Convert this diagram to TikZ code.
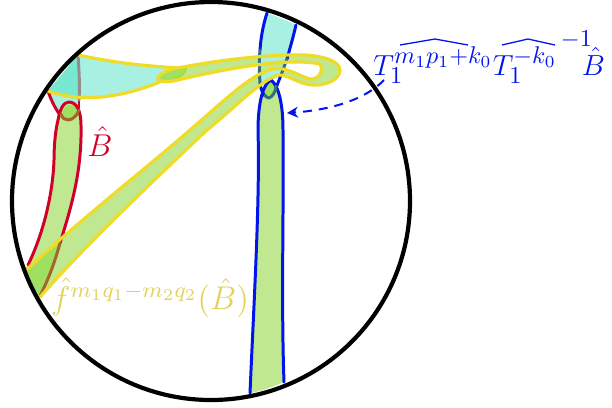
\documentclass[tikz,border=0pt]{standalone}
\usetikzlibrary{arrows.meta}
\DeclareMathSizes{10.95}{12}{10}{7}
\definecolor{cy}{RGB}{168,241,226}
\definecolor{cyd}{RGB}{120,232,208}
\definecolor{gr}{RGB}{192,232,144}
\definecolor{grd}{RGB}{160,224,96}
\definecolor{yl}{RGB}{238,220,40}
\definecolor{rd}{RGB}{208,0,40}
\definecolor{bl}{RGB}{0,20,235}
\definecolor{ytx}{RGB}{225,210,90}
\definecolor{brn}{RGB}{165,100,40}
\definecolor{gry}{RGB}{150,140,140}
\definecolor{dbl}{RGB}{50,110,125}
\definecolor{ygr}{RGB}{180,215,40}
\tikzset{edge/.style={line width=3pt,line cap=round,line join=round},
 yedge/.style={line width=3.2pt,line cap=round,line join=round,yl}}
\begin{document}
\begin{tikzpicture}[x=1bp,y=-1bp]
\useasboundingbox (0,0) rectangle (612,407);
\coordinate (c) at (211,201);
% top-left cyan
\fill[cy] (78,55) .. controls (120,64) and (150,66) .. (178,68) -- (160,82) .. controls (125,96) and (85,104) .. (48,91) -- cycle;
\fill[cyd] (78,55) .. controls (79,70) and (80,85) .. (79,100) .. controls (70,99) and (58,96) .. (48,91) -- cycle;
\fill[cy] (48,91) .. controls (62,97) and (70,99) .. (79,100) -- (79,112) -- (60,115) -- cycle;
% red band
\fill[gr] (69,102) .. controls (77,102) and (81,112) .. (81,125) .. controls (82,170) and (72,205) .. (60,243) -- (28,268) .. controls (45,230) and (53,190) .. (54,160) .. controls (54,148) and (55,132) .. (58,120) .. controls (60,110) and (63,102) .. (69,102) -- cycle;
% yellow band
\fill[gr] (26,270) .. controls (80,220) and (150,165) .. (190,130) .. controls (225,100) and (250,75) .. (272,69) .. controls (285,66) and (297,75) .. (310,79) .. controls (319,80) and (324,70) .. (320,64) .. controls (290,58) and (240,66) .. (186,78) .. controls (178,80) and (165,84) .. (158,80) .. controls (156,74) and (172,68) .. (183,67) .. controls (220,60) and (270,54) .. (305,55) .. controls (325,56) and (340,62) .. (340,70) .. controls (340,80) and (325,86) .. (312,85) .. controls (298,84) and (288,74) .. (277,75) .. controls (255,85) and (230,112) .. (207,130) .. controls (170,165) and (90,240) .. (40,297) .. controls (34,288) and (29,279) .. (26,270) -- cycle;
\fill[grd] (26,268) -- (60,243) .. controls (55,262) and (48,280) .. (40,297) .. controls (34,288) and (29,279) .. (26,268) -- cycle;
% blue upper
\fill[cy] (267,13) .. controls (275,16) and (288,21) .. (296,25) .. controls (292,40) and (288,55) .. (284,70) -- (277,78) -- (260,84) .. controls (258,78) and (259,70) .. (260,50) .. controls (261,35) and (264,22) .. (267,13) -- cycle;
% blue lower
\fill[gr] (271,80) .. controls (279,86) and (283,105) .. (283,130) .. controls (284,200) and (281,300) .. (284,382) .. controls (272,387) and (262,391) .. (250,393) .. controls (254,300) and (260,200) .. (258,130) .. controls (258,110) and (261,85) .. (271,80) -- cycle;
% overlaps
\fill[gr] (260,63) -- (287,59) -- (283,71) .. controls (272,68) and (265,72) .. (260,78) -- cycle;
\fill[grd] (159,78) .. controls (165,70) and (180,66) .. (186,69) .. controls (186,76) and (170,83) .. (159,80) -- cycle;
\draw[line width=1.6pt,ygr] (165,72) .. controls (172,68) and (182,66) .. (186,69) .. controls (186,74) and (178,78) .. (172,80);
\fill[grd] (271,81) .. controls (276,85) and (277,92) .. (270,98) .. controls (264,97) and (262,85) .. (271,81) -- cycle;
\fill[grd] (62,114) .. controls (63,105) and (74,100) .. (79,110) .. controls (76,116) and (71,120) .. (68,120) .. controls (64,120) and (62,117) .. (62,114) -- cycle;
% blue lines
\draw[edge,bl] (267,13) .. controls (264,22) and (261,35) .. (260,50);
\draw[edge,bl] (260,82) .. controls (260,87) and (262,92) .. (265,96);
\draw[edge,bl] (296,25) .. controls (293,38) and (290,48) .. (287,59);
\draw[edge,bl] (281,75) -- (276,88);
\draw[edge,bl] (284,382) .. controls (281,300) and (284,200) .. (283,130) .. controls (283,105) and (279,86) .. (271,80) .. controls (261,85) and (258,110) .. (258,130) .. controls (260,200) and (254,300) .. (250,393);
% dark parts
\draw[edge,dbl] (260,50) .. controls (259,60) and (259,72) .. (260,82);
\draw[edge,dbl] (287,59) -- (281,75);
\draw[edge,dbl] (276,86) .. controls (276,92) and (272,97) .. (269,98) .. controls (267,98) and (265,96) .. (265,95);
% red lines
\draw[edge,rd] (48,91) .. controls (51,100) and (55,108) .. (60,115);
\draw[edge,rd] (79,100) -- (79,110);
\draw[edge,rd] (60,243) .. controls (72,205) and (82,170) .. (81,125) .. controls (81,112) and (77,102) .. (69,102) .. controls (63,102) and (60,110) .. (58,120) .. controls (55,132) and (54,148) .. (54,160) .. controls (53,190) and (45,230) .. (28,265);
% grey and brown
\draw[edge,gry] (78,55) .. controls (79,70) and (80,85) .. (79,100);
\draw[edge,brn] (61,114) .. controls (62,118) and (65,120) .. (68,120) .. controls (72,120) and (77,116) .. (79,110);
\draw[edge,brn] (60,243) .. controls (55,262) and (48,280) .. (40,296);
% yellow lines
\draw[yedge] (78,55) .. controls (120,64) and (150,66) .. (178,68);
\draw[yedge] (48,91) .. controls (85,104) and (125,96) .. (160,82);
\draw[yedge] (26,270) .. controls (80,220) and (150,165) .. (190,130) .. controls (225,100) and (250,75) .. (272,69) .. controls (285,66) and (297,75) .. (310,79) .. controls (319,80) and (324,70) .. (320,64) .. controls (290,58) and (240,66) .. (186,78) .. controls (178,80) and (165,84) .. (158,80) .. controls (156,74) and (172,68) .. (183,67) .. controls (220,60) and (270,54) .. (305,55) .. controls (325,56) and (340,62) .. (340,70) .. controls (340,80) and (325,86) .. (312,85) .. controls (298,84) and (288,74) .. (277,75) .. controls (255,85) and (230,112) .. (207,130) .. controls (170,165) and (90,240) .. (40,297);
% circle
\node[draw=black,line width=4.2pt,circle,minimum size=398bp,inner sep=0pt] (disk) at (c) {};
% labels
\node[text=rd,font=\Large,scale=2.2,anchor=center] (bh) at (100,142) {$\hat{B}$};
\node[text=ytx,font=\large,scale=2.75,anchor=center] (fh) at (150,298) {$\hat{f}^{m_1q_1-m_2q_2}(\hat{B})$};
\node[text=bl,font=\fontsize{10.95}{13}\selectfont,scale=2.43,anchor=base west,inner sep=0pt] (th) at (373,75) {$T_1^{\smash{\raisebox{0.4pt}{$\scriptstyle m_1p_1+k_0$}}}T_1^{\smash{\raisebox{0.4pt}{$\scriptstyle -k_0$}}}{}^{\raisebox{7.5pt}{$\scriptstyle \,-1$}}\mkern-7mu\hat{B}$};
\draw[bl,line width=1.3pt] (400,45) -- (435,39) -- (468,45);
\draw[bl,line width=1.3pt] (502,45) -- (528,39) -- (555,45);
\coordinate (tip) at (287,113);
\coordinate (tail) at (384,80);
\draw[bl,line width=2pt,dash pattern=on 9pt off 7pt,-{Stealth[length=11pt,width=11pt]}] (tail) .. controls (365,100) and (330,110) .. (tip);
\end{tikzpicture}
\end{document}
